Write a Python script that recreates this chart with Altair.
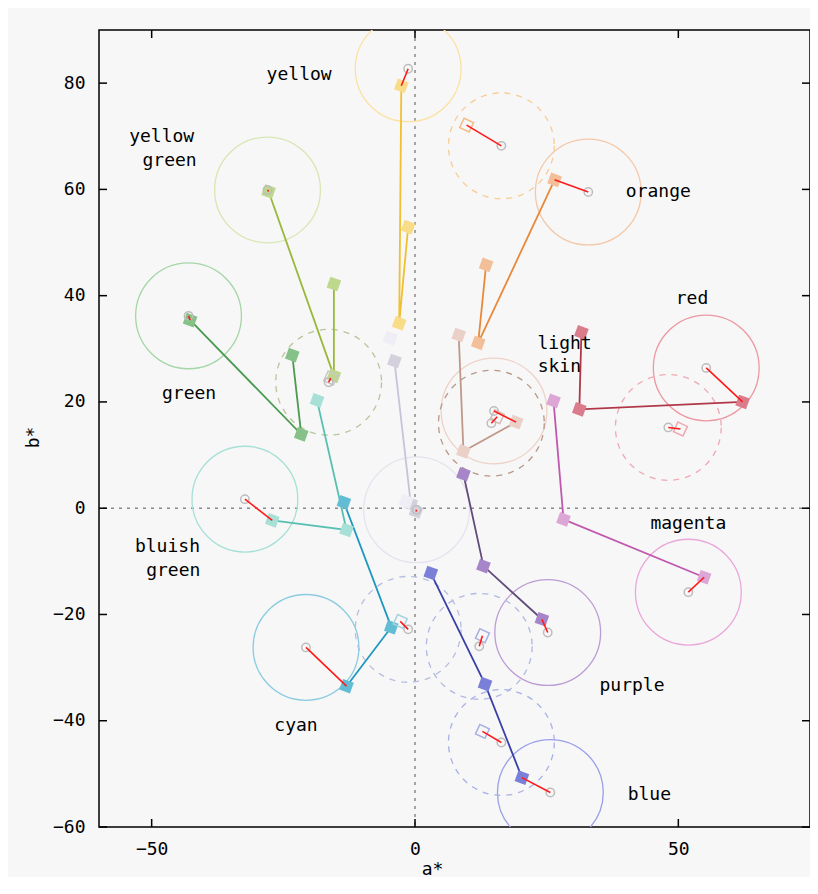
import altair as alt
import pandas as pd

# ---------------- data ----------------
names = ["yellow", "orange", "yellow green", "green", "bluish green", "cyan",
         "blue", "purple", "magenta", "red", "light skin", "neutral"]
target_a = [-1.3, 32.9, -28.0, -43.0, -32.3, -20.7, 25.7, 25.2, 51.9, 55.3, 15.0, 0.3]
target_b = [82.7, 59.5, 59.9, 36.2, 1.7, -26.2, -53.5, -23.4, -15.8, 26.4, 18.3, -0.3]
step1_a = [-1.3, 13.5, -15.4, -23.3, -18.6, -13.5, 3.0, 9.2, 26.3, 31.6, 8.3, -3.9]
step1_b = [52.9, 45.8, 42.2, 28.8, 20.3, 1.1, -12.2, 6.4, 20.2, 33.1, 32.6, 27.7]
step2_a = [-3.0, 12.0, -15.4, -21.6, -13.0, -4.5, 13.3, 13.0, 28.2, 31.2, 9.2, -0.8]
step2_b = [34.8, 31.1, 24.9, 13.9, -4.1, -22.4, -33.1, -10.9, -2.1, 18.6, 10.7, 0.8]
final_a = [-2.6, 26.5, -27.8, -42.7, -27.1, -13.0, 20.3, 24.1, 54.9, 62.2, 19.2, 0.2]
final_b = [79.5, 61.8, 59.6, 35.4, -2.3, -33.5, -50.7, -20.9, -13.0, 20.0, 16.2, -0.6]

white_a = [-4.7, -1.7]
white_b = [32.0, 1.3]

ref_a = [16.4, -16.4, -1.3, 12.2, 16.4, 48.1, 14.5]
ref_b = [68.2, 23.7, -22.8, -26.0, -44.1, 15.2, 16.0]
meas_a = [9.8, -16.0, -2.8, 12.8, 12.8, 50.4, 15.6]
meas_b = [72.1, 24.5, -21.3, -24.0, -42.0, 14.9, 17.2]

label_text = ["yellow", "yellow", "green", "orange", "red", "light", "skin", "green",
              "magenta", "bluish", "green", "purple", "cyan", "blue"]
label_a = [-22.0, -48.1, -46.6, 46.2, 52.6, 28.4, 27.4, -42.9, 51.9, -47.0, -45.9, 41.2, -22.6, 44.5]
label_b = [81.5, 69.9, 65.3, 59.5, 39.4, 30.9, 26.6, 21.5, -3.0, -7.3, -11.9, -33.5, -40.9, -53.9]

x_tick_values = [-50, 0, 50]
y_tick_values = [-60, -40, -20, 0, 20, 40, 60, 80]

# ---------------- styles ----------------
line_colors = ["#f0c030", "#e8893a", "#9ab83a", "#4a9a50", "#58c0b0", "#1e98c0",
               "#3a40a8", "#624c7c", "#c058b0", "#b03848", "#c09888", "#c8c2da"]
marker_colors = ["#f8dc88", "#f3bf98", "#bed88e", "#86c288", "#a6e0d6", "#62bcd4",
                 "#7a80d8", "#a686c8", "#dca6d6", "#da7c8c", "#ead0c6", "#d4d0dc"]
circle_colors = ["#fbe2a0", "#f4c8a8", "#d8e6b2", "#a4d6a6", "#a6e0d6", "#8ccce0",
                 "#9aa0e8", "#bc9cd4", "#eaa8da", "#ec98a2", "#eed2c8", "#e6e2ee"]
ref_colors = ["#f8cc94", "#b8c49a", "#b6bee0", "#b0b8e2", "#a8b0e8", "#f0a8b2", "#b89888"]
ref_marker_colors = ["#f2bc84", "#c8c8c8", "#a8d0e0", "#a8b0e2", "#a8b0e2", "#f0a8b0", "#d8bcb4"]

W, H = 711, 797
xs = alt.Scale(domain=[-60, 75], nice=False, zero=False)
ys = alt.Scale(domain=[-60, 90], nice=False, zero=False)
FONT = "DejaVu Sans Mono"
R_X = 10 * W / 135.0
R_Y = 10 * H / 150.0
R_SIZE = (R_X + R_Y) ** 2

x_axis = alt.Axis(values=x_tick_values, grid=False, domain=False, ticks=False,
                  labelPadding=13, labelFont=FONT, labelFontSize=18, labelColor="black",
                  title="a*", titleFont=FONT, titleFontSize=18, titleFontWeight="normal",
                  titleColor="black", titleX=333, titleY=42, titleBaseline="middle",
                  titleAlign="center")
y_axis = alt.Axis(values=y_tick_values, grid=False, domain=False, ticks=False,
                  labelPadding=14, labelFont=FONT, labelFontSize=18, labelColor="black",
                  title="b*", titleFont=FONT, titleFontSize=18, titleFontWeight="normal",
                  titleColor="black", titleX=-66, titleY=407, titleAngle=270,
                  titleBaseline="middle", titleAlign="center")


def X(f="a"):
    return alt.X(f"{f}:Q", scale=xs, axis=x_axis, title="a*")


def Y(f="b"):
    return alt.Y(f"{f}:Q", scale=ys, axis=y_axis, title="b*")


# ---------------- tables ----------------
targets = pd.DataFrame({"name": names, "a": target_a, "b": target_b,
                        "a2": final_a, "b2": final_b, "cc": circle_colors})
rows = []
for i, n in enumerate(names):
    for s, (pa, pb) in enumerate([(step1_a[i], step1_b[i]), (step2_a[i], step2_b[i]),
                                  (final_a[i], final_b[i])]):
        rows.append({"name": n, "step": s, "a": pa, "b": pb,
                     "lc": line_colors[i], "mc": marker_colors[i]})
path = pd.DataFrame(rows)
whites = pd.DataFrame({"a": white_a, "b": white_b})
refs = pd.DataFrame({"a": ref_a, "b": ref_b, "a2": meas_a, "b2": meas_b,
                     "rc": ref_colors, "rm": ref_marker_colors})
refs_meas = pd.DataFrame({"a": meas_a, "b": meas_b, "rm": ref_marker_colors})
labels = pd.DataFrame({"t": label_text, "a": label_a, "b": label_b})
xt = pd.DataFrame({"a": x_tick_values})
yt = pd.DataFrame({"b": y_tick_values})

# ---------------- layers ----------------
zero_v = alt.Chart(pd.DataFrame({"a": [0]})).mark_rule(
    color="#8a8a8a", strokeDash=[3, 5], strokeWidth=1.5).encode(x=X())
zero_h = alt.Chart(pd.DataFrame({"b": [0]})).mark_rule(
    color="#8a8a8a", strokeDash=[3, 5], strokeWidth=1.5).encode(y=Y())

solid_circles = alt.Chart(targets).mark_point(
    shape="circle", size=R_SIZE, filled=False, strokeWidth=1.3, opacity=1, clip=True
).encode(x=X(), y=Y(), color=alt.Color("cc:N", scale=None))

dashed_circles = alt.Chart(refs).mark_point(
    shape="circle", size=R_SIZE, filled=False, strokeWidth=1.3, opacity=1,
    strokeDash=[6, 6], clip=True
).encode(x=X(), y=Y(), color=alt.Color("rc:N", scale=None))

lines = alt.Chart(path).mark_line(strokeWidth=1.8, clip=True).encode(
    x=X(), y=Y(), color=alt.Color("lc:N", scale=None),
    detail="name:N", order="step:O")

markers = alt.Chart(path).mark_point(
    shape="square", filled=True, size=130, opacity=1, angle=20, clip=True
).encode(x=X(), y=Y(), color=alt.Color("mc:N", scale=None))

white_markers = alt.Chart(whites).mark_point(
    shape="square", filled=True, size=140, opacity=1, angle=20, color="#efedf6"
).encode(x=X(), y=Y())

open_markers = alt.Chart(refs_meas).mark_point(
    shape="square", filled=False, size=110, strokeWidth=1.5, opacity=1, angle=25
).encode(x=X(), y=Y(), color=alt.Color("rm:N", scale=None))

target_dots = alt.Chart(targets).mark_point(
    shape="circle", size=70, filled=False, strokeWidth=1.5, opacity=1, color="#bdbdbd"
).encode(x=X(), y=Y())
ref_dots = alt.Chart(refs).mark_point(
    shape="circle", size=70, filled=False, strokeWidth=1.5, opacity=1, color="#bdbdbd"
).encode(x=X(), y=Y())

red_main = alt.Chart(targets).mark_rule(color="#ff1a1a", strokeWidth=1.6).encode(
    x=X(), y=Y(), x2="a2:Q", y2="b2:Q")
red_ref = alt.Chart(refs).mark_rule(color="#ff1a1a", strokeWidth=1.6).encode(
    x=X(), y=Y(), x2="a2:Q", y2="b2:Q")

texts = alt.Chart(labels).mark_text(
    font=FONT, fontSize=18, color="black", align="center", baseline="middle"
).encode(x=X(), y=Y(), text="t:N")

tick_b = alt.Chart(xt).mark_rule(color="black", strokeWidth=1.5).encode(
    x=X(), y=alt.value(H), y2=alt.value(H - 8))
tick_t = alt.Chart(xt).mark_rule(color="black", strokeWidth=1.5).encode(
    x=X(), y=alt.value(0), y2=alt.value(8))
tick_l = alt.Chart(yt).mark_rule(color="black", strokeWidth=1.5).encode(
    y=Y(), x=alt.value(0), x2=alt.value(8))
tick_r = alt.Chart(yt).mark_rule(color="black", strokeWidth=1.5).encode(
    y=Y(), x=alt.value(W), x2=alt.value(W - 8))

chart = alt.layer(
    zero_v, zero_h, solid_circles, dashed_circles, lines, markers, white_markers,
    open_markers, target_dots, ref_dots, red_main, red_ref, texts,
    tick_b, tick_t, tick_l, tick_r
).properties(
    width=W, height=H,
    autosize=alt.AutoSizeParams(type="none"),
    padding={"left": 91, "top": 22, "right": 0, "bottom": 50},
    background="#f7f7f7",
).configure_view(
    stroke="black", strokeWidth=1.5, fill="#f7f7f7"
)

chart.save("out.html", embed_options={"renderer": "svg", "actions": False})
